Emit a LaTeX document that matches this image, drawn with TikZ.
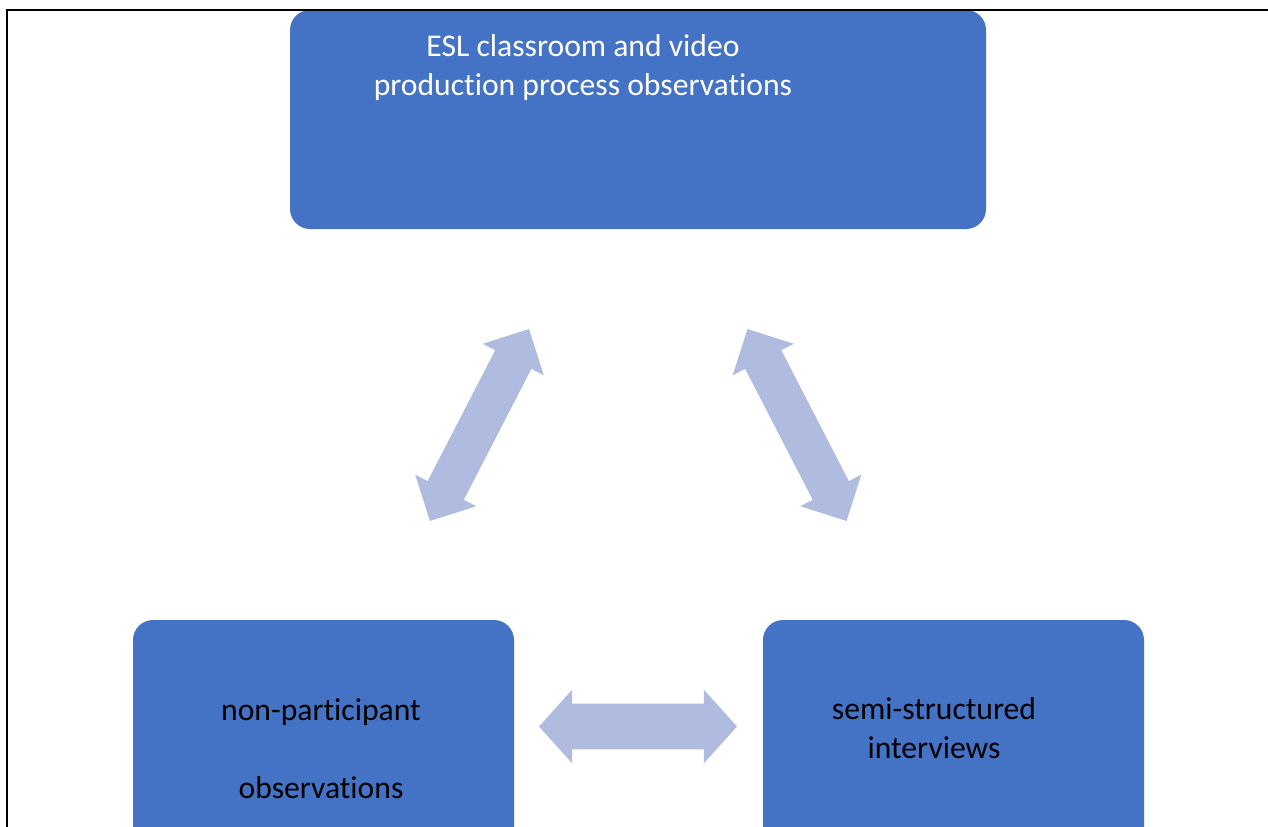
\documentclass[tikz,border=0pt]{standalone}
\usepackage{fontspec}
\setmainfont{Carlito}[Ligatures=NoCommon]
\usepackage{tikz}
\usetikzlibrary{shapes,arrows,backgrounds,positioning}
\definecolor{boxblue}{RGB}{68,114,196}
\definecolor{arrowblue}{RGB}{175,188,224}
\tikzstyle{box1}=[rectangle, fill=boxblue, rounded corners=0.4cm, minimum width=13.92cm, minimum height=4.38cm]
\tikzstyle{box2}=[rectangle, fill=boxblue, rounded corners=0.4cm, minimum width=7.62cm, minimum height=4.8cm]
\tikzstyle{txt1}=[text=white, align=center, inner sep=0, anchor=base, font=\fontsize{18}{22}\selectfont]
\tikzstyle{txt2}=[text=black, align=center, inner sep=0, anchor=base, font=\fontsize{18}{22}\selectfont]
\tikzstyle{arrow1}=[double arrow, draw=none, fill=arrowblue, inner sep=0, inner ysep=0.4cm, minimum height=4.32cm, double arrow head extend=0.28cm, double arrow tip angle=90]
\tikzstyle{arrow2}=[double arrow, draw=none, fill=arrowblue, inner sep=0, inner ysep=0.45cm, minimum height=3.96cm, double arrow head extend=0.28cm, double arrow tip angle=96]

\begin{document}
\begin{tikzpicture}
\clip (0,0) rectangle (25.36,-16.54);
%Boxes
\node[box1] (eslobs) at (12.76,-2.39){};
\node[box2] (nonpart) at (6.47,-14.8){};
\node[box2] (semistruct) at (19.07,-14.8){};
%Texts
\node[txt1] (eslobstxt) at (11.66,-1.90){ESL classroom and video\\production process observations};
\node[txt2] (nonparttxt) at (6.42,-15.96){non-participant\\[22pt]observations};
\node[txt2] (semistructtxt) at (18.68,-15.16){semi-structured\\interviews};
%Arrows
\node[arrow1,rotate=62.7] (ar1) at (9.59,-8.5){};
\node[arrow1,rotate=117.3] (ar2) at (15.94,-8.5){};
\node[arrow2] (ar3) at (12.76,-14.53){};
%Frame
\draw[line width=0.04cm] (0.14,-17) -- (0.14,-0.2) -- (26,-0.2);
\end{tikzpicture}
\end{document}
